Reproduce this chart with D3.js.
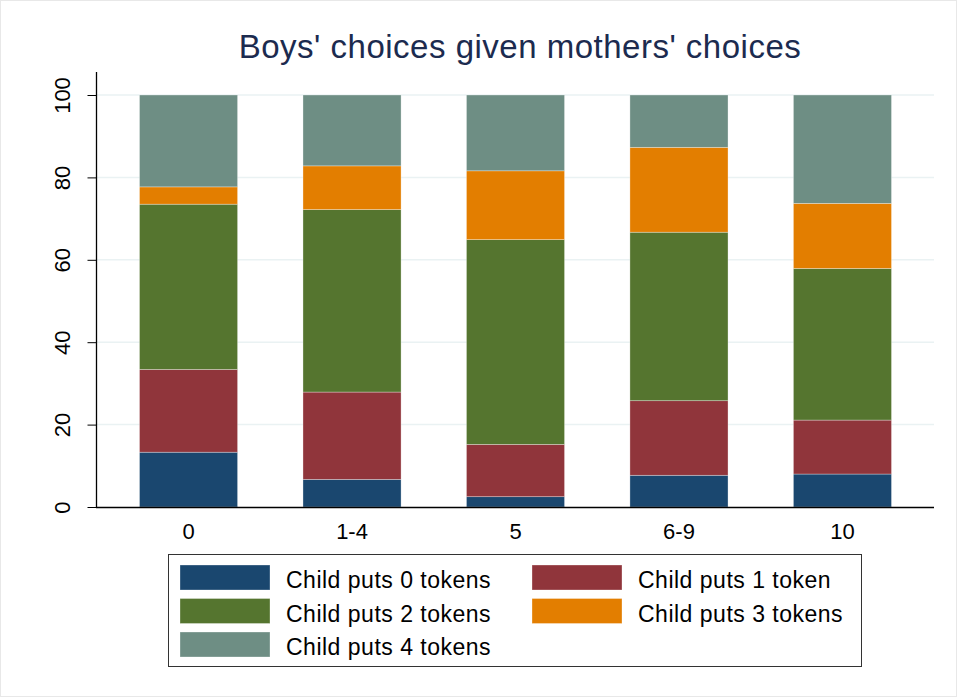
<!DOCTYPE html>
<html>
<head>
<meta charset="utf-8">
<script src="https://cdn.jsdelivr.net/npm/d3@7"></script>
<style>
  body { margin: 0; background: #fff; }
  svg { display: block; font-family: "Liberation Sans", Arial, sans-serif; }
</style>
</head>
<body>
<svg id="chart" width="957" height="697"></svg>
<script>
// mothers' choice groups
const categories = ['0', '1-4', '5', '6-9', '10'];
const seriesNames = ['Child puts 0 tokens', 'Child puts 1 token', 'Child puts 2 tokens', 'Child puts 3 tokens', 'Child puts 4 tokens'];
const seriesKeys = ['t0', 't1', 't2', 't3', 't4'];
const colors = ['#1a476f', '#90353b', '#55752f', '#e37e00', '#6e8e84'];

// percentages per group
const t0 = [13.3, 6.7, 2.5, 7.7, 8.0];
const t1 = [20.1, 21.2, 12.7, 18.1, 13.1];
const t2 = [40.1, 44.3, 49.7, 40.9, 36.8];
const t3 = [4.2, 10.6, 16.7, 20.6, 15.8];
const t4 = [22.3, 17.2, 18.4, 12.7, 26.3];
const yTicks = [0, 20, 40, 60, 80, 100];

const rows = categories.map((c, i) => ({
    cat: c, t0: t0[i], t1: t1[i], t2: t2[i], t3: t3[i], t4: t4[i]
}));

const svg = d3.select('#chart');
const W = 957, H = 697;
const plotL = 97, plotR = 934, plotT = 95, plotB = 507;

// faint outer frame
svg.append('rect')
    .attr('x', 0.5).attr('y', 0.5)
    .attr('width', W - 1).attr('height', H - 1)
    .attr('fill', '#fff')
    .attr('stroke', '#e8e8e8');

const x = d3.scaleBand()
    .domain(categories)
    .range([plotL, plotR])
    .paddingInner(0.4)
    .paddingOuter(0.26);

const y = d3.scaleLinear().domain([0, 100]).range([plotB, plotT]);

// gridlines
svg.append('g')
    .selectAll('line')
    .data(yTicks.filter(d => d > 0))
    .enter()
    .append('line')
    .attr('x1', plotL).attr('x2', plotR)
    .attr('y1', d => y(d)).attr('y2', d => y(d))
    .attr('stroke', '#eaf2f3')
    .attr('stroke-width', 1.5);

const stacked = d3.stack().keys(seriesKeys)(rows);

svg.append('g')
    .selectAll('g')
    .data(stacked)
    .enter()
    .append('g')
    .attr('fill', (d, i) => colors[i])
    .selectAll('rect')
    .data(d => d)
    .enter()
    .append('rect')
    .attr('x', d => x(d.data.cat))
    .attr('width', x.bandwidth())
    .attr('y', d => y(d[1]))
    .attr('height', d => y(d[0]) - y(d[1]))
    .attr('stroke', 'rgba(255,255,255,0.45)')
    .attr('stroke-width', 0.7);

// y axis
const yAxis = svg.append('g')
    .attr('transform', `translate(${plotL - 0.5},0)`)
    .call(d3.axisLeft(y).tickValues(yTicks).tickSize(9).tickPadding(0));
yAxis.select('.domain').remove();
yAxis.selectAll('.tick line').attr('stroke', '#000');
yAxis.selectAll('.tick text')
    .attr('x', 0).attr('dy', null)
    .attr('transform', d => `translate(-32,0) rotate(-90)`)
    .attr('text-anchor', 'middle')
    .attr('dominant-baseline', 'middle')
    .attr('font-size', 22)
    .attr('fill', '#000');
svg.append('line')
    .attr('x1', plotL - 0.5).attr('x2', plotL - 0.5)
    .attr('y1', 72).attr('y2', plotB + 1)
    .attr('stroke', '#000').attr('stroke-width', 1.3);

// x axis
const xAxis = svg.append('g')
    .attr('transform', `translate(0,${plotB + 0.5})`)
    .call(d3.axisBottom(x).tickSize(0).tickPadding(0));
xAxis.select('.domain').remove();
xAxis.selectAll('.tick text')
    .attr('y', 31).attr('dy', null)
    .attr('font-size', 22)
    .attr('fill', '#000');
svg.append('line')
    .attr('x1', plotL - 1).attr('x2', plotR)
    .attr('y1', plotB + 0.5).attr('y2', plotB + 0.5)
    .attr('stroke', '#000').attr('stroke-width', 1.3);

// title
svg.append('text')
    .attr('x', 520)
    .attr('y', 58)
    .attr('text-anchor', 'middle')
    .attr('font-size', 33)
    .attr('letter-spacing', 0.5)
    .attr('fill', '#1c2b4f')
    .text("Boys' choices given mothers' choices");

// legend
const lg = svg.append('g');
lg.append('rect')
    .attr('x', 168.5).attr('y', 554.5)
    .attr('width', 693).attr('height', 112)
    .attr('fill', '#fff')
    .attr('stroke', '#333')
    .attr('stroke-width', 1);

const items = lg.selectAll('g')
    .data(seriesNames)
    .enter()
    .append('g')
    .attr('transform', (d, i) => `translate(${i % 2 ? 532 : 180},${565 + Math.floor(i / 2) * 33.5})`);
items.append('rect')
    .attr('width', 90).attr('height', 25)
    .attr('fill', (d, i) => colors[i])
    .attr('stroke', 'rgba(255,255,255,0.45)')
    .attr('stroke-width', 0.7);
items.append('text')
    .attr('x', 106).attr('y', 23)
    .attr('font-size', 23)
    .attr('letter-spacing', 0.5)
    .attr('fill', '#000')
    .text(d => d);
</script>
</body>
</html>
